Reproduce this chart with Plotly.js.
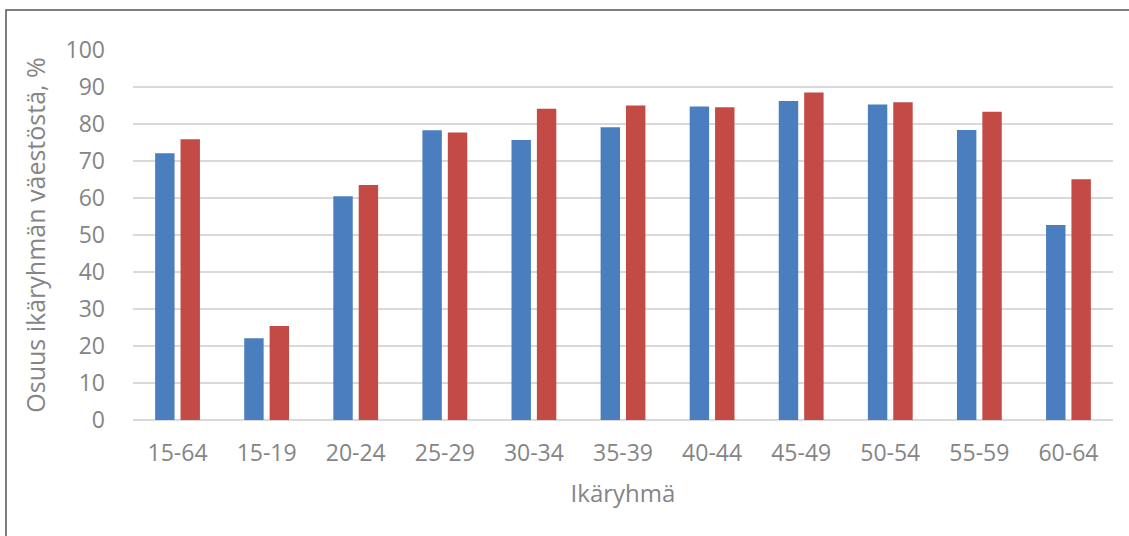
<!DOCTYPE html>
<html>
<head>
<meta charset="utf-8">
<script src="https://cdn.plot.ly/plotly-3.0.1.min.js"></script>
<style>html,body{margin:0;padding:0;background:#fff;}#chart{width:1129px;height:536px;}</style>
</head>
<body>
<div id="chart"></div>
<script>
const categories = ["15-64","15-19","20-24","25-29","30-34","35-39","40-44","45-49","50-54","55-59","60-64"];
const series1 = [72.1, 22.1, 60.5, 78.3, 75.7, 79.1, 84.7, 86.2, 85.3, 78.4, 52.7];
const series2 = [75.9, 25.4, 63.5, 77.7, 84.1, 85.0, 84.5, 88.5, 85.9, 83.3, 65.1];
const yTicks = [0,10,20,30,40,50,60,70,80,90,100];

const W = 1129, H = 536;
const m = {l:133, r:16, t:50, b:116};
const pw = W - m.l - m.r, ph = H - m.t - m.b;

const font = "Open Sans, sans-serif";
const grey = "#858585";

const traces = [
  {type:"bar", x:categories, y:series1, name:"Sarja 1", marker:{color:"#4A7EBF"}, hoverinfo:"x+y"},
  {type:"bar", x:categories, y:series2, name:"Sarja 2", marker:{color:"#C44A46"}, hoverinfo:"x+y"}
];

const layout = {
  width: W, height: H,
  margin: m,
  paper_bgcolor: "#fff", plot_bgcolor: "#fff",
  showlegend: false,
  barmode: "group",
  bargap: 0.43,
  bargroupgap: 0.235,
  font: {family: font, color: grey, size: 24},
  xaxis: {
    type: "category",
    showgrid: false, showline: false, zeroline: false,
    ticks: "", ticklabelstandoff: 17,
    tickfont: {family: font, size: 23, color: grey},
    title: {text: "Ikäryhmä", font: {family: font, size: 24, color: grey}, standoff: 18}
  },
  yaxis: {
    range: [0, 100], tickvals: yTicks, ticktext: yTicks.map(String),
    showgrid: true, gridcolor: "#d9d9d9", gridwidth: 2,
    zeroline: true, zerolinecolor: "#d9d9d9", zerolinewidth: 2,
    showline: false, ticks: "", ticklabelstandoff: 27,
    tickfont: {family: font, size: 23, color: grey},
    title: {text: "Osuus ikäryhmän väestöstä, %", font: {family: font, size: 25, color: grey}, standoff: 12}
  },
  shapes: [{
    type: "rect", xref: "paper", yref: "paper",
    x0: (6 - m.l) / pw, x1: (W + 20 - m.l) / pw,
    y0: (m.t + ph - (H + 20)) / ph, y1: (m.t + ph - 10) / ph,
    line: {color: "#555", width: 1.5}, fillcolor: "rgba(0,0,0,0)", layer: "below"
  }]
};

Plotly.newPlot("chart", traces, layout, {displayModeBar: false, staticPlot: true});
</script>
</body>
</html>
